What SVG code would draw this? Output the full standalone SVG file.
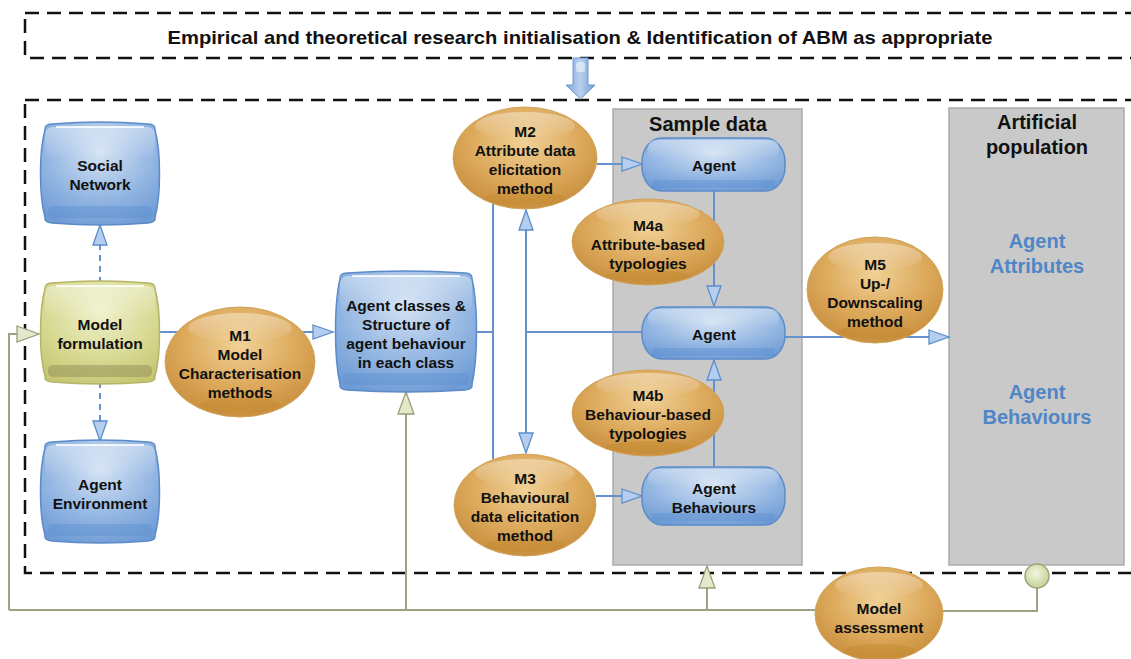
<svg xmlns="http://www.w3.org/2000/svg" width="1131" height="659" viewBox="0 0 1131 659">
<style>
.t{font-family:"Liberation Sans",Arial,sans-serif;font-weight:bold;font-size:15.5px;fill:#111;text-anchor:middle;dominant-baseline:central}
.title{font-size:20px}
.bt{font-size:20px;fill:#4f86c6}
.dash{fill:none;stroke:#111;stroke-width:2.5;stroke-dasharray:14 8}
.gray{fill:#c9c9c9;stroke:#aaaaaa;stroke-width:1.5}
.blue{fill:url(#gBlue);stroke:#5b8bc9;stroke-width:1.5}
.olive{fill:url(#gOlive);stroke:#b5b56a;stroke-width:1.5}
.orange{fill:url(#gOrange);stroke:#d0a45a;stroke-width:1}
.gloss{fill:url(#gGloss)}
.bandB{fill:#5a8ed0;opacity:.4}
.bandO{fill:#c2862c;opacity:.4}
.bandY{fill:#9d9a5e;opacity:.6}
.hl{stroke:#fff;stroke-width:2;opacity:.8;fill:none}
.cb{fill:none;stroke:#6592cc;stroke-width:2}
.cbd{fill:none;stroke:#6592cc;stroke-width:2;stroke-dasharray:6 5}
.co{fill:none;stroke:#9ea282;stroke-width:2}
</style>
<defs>
<radialGradient id="gBlue" cx="50%" cy="30%" r="75%">
<stop offset="0" stop-color="#d4e2f3"/><stop offset="0.6" stop-color="#93b6e2"/><stop offset="1" stop-color="#6f9bd5"/>
</radialGradient>
<radialGradient id="gOlive" cx="50%" cy="30%" r="75%">
<stop offset="0" stop-color="#eff1cc"/><stop offset="0.6" stop-color="#d8da94"/><stop offset="1" stop-color="#c5c672"/>
</radialGradient>
<radialGradient id="gOrange" cx="50%" cy="35%" r="65%">
<stop offset="0" stop-color="#f0d196"/><stop offset="0.6" stop-color="#dca85a"/><stop offset="1" stop-color="#c88f3e"/>
</radialGradient>
<linearGradient id="gGloss" x1="0" y1="0" x2="0" y2="1">
<stop offset="0" stop-color="#fff" stop-opacity="0.4"/><stop offset="1" stop-color="#fff" stop-opacity="0"/>
</linearGradient>
<linearGradient id="gArrow" x1="0" y1="0" x2="1" y2="0">
<stop offset="0" stop-color="#7ea7dc"/><stop offset="0.5" stop-color="#b9d0ee"/><stop offset="1" stop-color="#6f9bd5"/>
</linearGradient>
<radialGradient id="gCirc" cx="45%" cy="40%" r="60%">
<stop offset="0" stop-color="#f3f7e2"/><stop offset="1" stop-color="#c3d298"/>
</radialGradient>
<marker id="aB" markerUnits="userSpaceOnUse" markerWidth="24" markerHeight="18" viewBox="-2 -2 24 18" refX="20" refY="7" orient="auto">
<path d="M0,0 L20,7 L0,14 Z" fill="#b5cdee" stroke="#5b8fcc" stroke-width="1.3" stroke-dasharray="none"/>
</marker>
<marker id="aO" markerUnits="userSpaceOnUse" markerWidth="26" markerHeight="20" viewBox="-2 -2 26 20" refX="22" refY="8" orient="auto">
<path d="M0,0 L22,8 L0,16 Z" fill="#e2eacb" stroke="#9a9f7c" stroke-width="1.3"/>
</marker>
</defs>

<rect width="1131" height="659" fill="#fff"/>

<g id="frames">
<rect class="dash" x="25" y="13" width="1120" height="45"/>
<text class="t" x="580" y="37" style="font-size:19px" textLength="825" lengthAdjust="spacingAndGlyphs">Empirical and theoretical research initialisation &amp; Identification of ABM as appropriate</text>
<rect class="dash" x="25" y="100" width="1120" height="473"/>
</g>

<g id="sample-data">
<rect class="gray" x="613" y="109" width="189" height="456"/>
<text class="t title" x="708" y="124">Sample data</text>
</g>

<g id="artificial-population">
<rect class="gray" x="949" y="108" width="175" height="457"/>
<text class="t title" x="1037" y="122">Artificial</text>
<text class="t title" x="1037" y="147">population</text>
<text class="t bt" x="1037" y="241">Agent</text>
<text class="t bt" x="1037" y="266">Attributes</text>
<text class="t bt" x="1037" y="392">Agent</text>
<text class="t bt" x="1037" y="417">Behaviours</text>
</g>

<g id="connectors">
<path class="cbd" d="M100,283 V225" marker-end="url(#aB)"/>
<path class="cbd" d="M100,382 V441" marker-end="url(#aB)"/>
<path class="cb" d="M158,332 H333" marker-end="url(#aB)"/>
<path class="cb" d="M477,332 H493 M493,204 V459"/>
<path class="cb" d="M642,332 H526 V210" marker-end="url(#aB)"/>
<path class="cb" d="M526,332 V453" marker-end="url(#aB)"/>
<path class="cb" d="M597,164 H642" marker-end="url(#aB)"/>
<path class="cb" d="M596,496 H642" marker-end="url(#aB)"/>
<path class="cb" d="M714,191 V306" marker-end="url(#aB)"/>
<path class="cb" d="M714,467 V360" marker-end="url(#aB)"/>
<path class="cb" d="M785,337 H949" marker-end="url(#aB)"/>
<path class="co" d="M9,610 V334 H39" marker-end="url(#aO)"/>
<path class="co" d="M9,610 H830"/>
<path class="co" d="M406,610 V392" marker-end="url(#aO)"/>
<path class="co" d="M707,610 V566" marker-end="url(#aO)"/>
<path class="co" d="M930,611 H1037 V588"/>
<circle cx="1037" cy="576" r="12" fill="url(#gCirc)" stroke="#9ea57a" stroke-width="1.5"/>
<path d="M573,58 H588 V85 H595 L580.5,99 L566,85 H573 Z" fill="url(#gArrow)" stroke="#6a97d0" stroke-width="1"/>
<rect x="576" y="62" width="9" height="10" rx="2" fill="#fff" opacity="0.5"/>
</g>

<g id="social-network">
<path class="blue" d="M52,124 Q100,120 148,124 Q156,124.5 155,130 C161,151 161,196 155,217 Q156,222.5 148,223 Q100,227 52,223 Q44,222.5 45,217 C39,196 39,151 45,130 Q44,124.5 52,124 Z"/>
<rect class="gloss" x="45" y="127" width="110" height="32" rx="8"/>
<rect class="bandB" x="48" y="206" width="104" height="12" rx="5"/>
<path class="hl" d="M56,127 H144"/>
<text class="t" x="100" y="165">Social</text>
<text class="t" x="100" y="184">Network</text>
</g>

<g id="model-formulation">
<path class="olive" d="M52,283 Q100,279 148,283 Q156,283.5 155,289 C161,310 161,355 155,376 Q156,381.5 148,382 Q100,386 52,382 Q44,381.5 45,376 C39,355 39,310 45,289 Q44,283.5 52,283 Z"/>
<rect class="gloss" x="45" y="286" width="110" height="32" rx="8"/>
<rect class="bandY" x="48" y="365" width="104" height="12" rx="5"/>
<path class="hl" d="M56,286 H144"/>
<text class="t" x="100" y="324">Model</text>
<text class="t" x="100" y="343">formulation</text>
</g>

<g id="agent-environment">
<path class="blue" d="M52,442 Q100,438 148,442 Q156,442.5 155,448 C161,469 161,514 155,535 Q156,540.5 148,541 Q100,545 52,541 Q44,540.5 45,535 C39,514 39,469 45,448 Q44,442.5 52,442 Z"/>
<rect class="gloss" x="45" y="445" width="110" height="32" rx="8"/>
<rect class="bandB" x="48" y="524" width="104" height="12" rx="5"/>
<path class="hl" d="M56,445 H144"/>
<text class="t" x="100" y="484">Agent</text>
<text class="t" x="100" y="503">Environment</text>
</g>

<g id="m1">
<ellipse class="orange" cx="240" cy="362" rx="75" ry="55"/>
<ellipse class="gloss" cx="240" cy="328" rx="52" ry="15"/>
<ellipse class="bandO" cx="240" cy="405" rx="40" ry="8"/>
<text class="t" x="240" y="335">M1</text>
<text class="t" x="240" y="354">Model</text>
<text class="t" x="240" y="373">Characterisation</text>
<text class="t" x="240" y="392">methods</text>
</g>

<g id="agent-classes">
<path class="blue" d="M347,273 Q406,269 465,273 Q473,273.5 472,279 C478,305 478,358 472,384 Q473,389.5 465,390 Q406,394 347,390 Q339,389.5 340,384 C334,358 334,305 340,279 Q339,273.5 347,273 Z"/>
<rect class="gloss" x="340" y="276" width="132" height="36" rx="8"/>
<rect class="bandB" x="343" y="373" width="126" height="12" rx="5"/>
<path class="hl" d="M352,276 H460"/>
<text class="t" x="406" y="305">Agent classes &amp;</text>
<text class="t" x="406" y="324">Structure of</text>
<text class="t" x="406" y="343">agent behaviour</text>
<text class="t" x="406" y="362">in each class</text>
</g>

<g id="m2">
<ellipse class="orange" cx="525" cy="158" rx="72" ry="51"/>
<ellipse class="gloss" cx="525" cy="126" rx="50" ry="14"/>
<ellipse class="bandO" cx="525" cy="198" rx="40" ry="7"/>
<text class="t" x="525" y="131">M2</text>
<text class="t" x="525" y="150">Attribute data</text>
<text class="t" x="525" y="169">elicitation</text>
<text class="t" x="525" y="188">method</text>
</g>

<g id="m3">
<ellipse class="orange" cx="525" cy="505" rx="71" ry="51"/>
<ellipse class="gloss" cx="525" cy="473" rx="50" ry="14"/>
<ellipse class="bandO" cx="525" cy="545" rx="40" ry="7"/>
<text class="t" x="525" y="478">M3</text>
<text class="t" x="525" y="497">Behavioural</text>
<text class="t" x="525" y="516">data elicitation</text>
<text class="t" x="525" y="535">method</text>
</g>

<g id="agent-top">
<rect class="blue" x="642" y="138" width="143" height="53" rx="20" ry="24"/>
<rect class="gloss" x="648" y="140" width="131" height="18" rx="8"/>
<rect class="bandB" x="652" y="180" width="123" height="8" rx="4"/>
<text class="t" x="714" y="165">Agent</text>
</g>

<g id="agent-middle">
<rect class="blue" x="642" y="307" width="143" height="52" rx="20" ry="24"/>
<rect class="gloss" x="648" y="309" width="131" height="18" rx="8"/>
<rect class="bandB" x="652" y="348" width="123" height="8" rx="4"/>
<text class="t" x="714" y="334">Agent</text>
</g>

<g id="agent-behaviours">
<rect class="blue" x="642" y="467" width="143" height="58" rx="20" ry="26"/>
<rect class="gloss" x="648" y="469" width="131" height="18" rx="8"/>
<rect class="bandB" x="652" y="513" width="123" height="8" rx="4"/>
<text class="t" x="714" y="488">Agent</text>
<text class="t" x="714" y="507">Behaviours</text>
</g>

<g id="m4a">
<ellipse class="orange" cx="648" cy="242" rx="76" ry="43"/>
<ellipse class="gloss" cx="648" cy="214" rx="52" ry="12"/>
<ellipse class="bandO" cx="648" cy="276" rx="42" ry="6"/>
<text class="t" x="648" y="225">M4a</text>
<text class="t" x="648" y="244">Attribute-based</text>
<text class="t" x="648" y="263">typologies</text>
</g>

<g id="m4b">
<ellipse class="orange" cx="648" cy="413" rx="76" ry="43"/>
<ellipse class="gloss" cx="648" cy="385" rx="52" ry="12"/>
<ellipse class="bandO" cx="648" cy="447" rx="42" ry="6"/>
<text class="t" x="648" y="395">M4b</text>
<text class="t" x="648" y="414">Behaviour-based</text>
<text class="t" x="648" y="433">typologies</text>
</g>

<g id="m5">
<ellipse class="orange" cx="875" cy="290" rx="68" ry="53"/>
<ellipse class="gloss" cx="875" cy="257" rx="47" ry="14"/>
<ellipse class="bandO" cx="875" cy="332" rx="38" ry="7"/>
<text class="t" x="875" y="264">M5</text>
<text class="t" x="875" y="283">Up-/</text>
<text class="t" x="875" y="302">Downscaling</text>
<text class="t" x="875" y="321">method</text>
</g>

<g id="model-assessment">
<ellipse class="orange" cx="879" cy="614" rx="64" ry="47"/>
<ellipse class="gloss" cx="879" cy="585" rx="44" ry="13"/>
<ellipse class="bandO" cx="879" cy="651" rx="36" ry="7"/>
<text class="t" x="879" y="608">Model</text>
<text class="t" x="879" y="627">assessment</text>
</g>
</svg>
